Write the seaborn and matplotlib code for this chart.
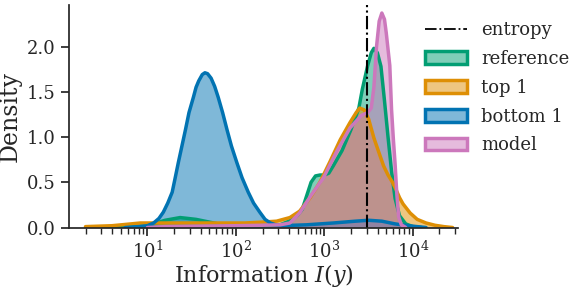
import numpy as np
import pandas as pd
import seaborn as sns
import matplotlib.pyplot as plt
from matplotlib.patches import Patch
from matplotlib.lines import Line2D

# curves: log10 of information, density
ref_log = [0.5, 0.8, 1.0, 1.1, 1.2, 1.37, 1.55, 1.7, 1.85, 2.0, 2.3, 2.5, 2.6, 2.7, 2.75, 2.8,
           2.85, 2.9, 2.95, 3.0, 3.05, 3.1, 3.2, 3.3, 3.39, 3.43, 3.49, 3.53, 3.56, 3.60, 3.64,
           3.68, 3.72, 3.76, 3.80, 3.85, 3.92, 4.0, 4.1]
ref_dens = [0.0, 0.005, 0.02, 0.05, 0.08, 0.11, 0.09, 0.06, 0.03, 0.02, 0.015, 0.03, 0.07, 0.14,
            0.2, 0.35, 0.5, 0.57, 0.58, 0.58, 0.6, 0.68, 0.85, 1.08, 1.32, 1.53, 1.79, 1.93,
            1.98, 1.93, 1.78, 1.40, 1.0, 0.62, 0.32, 0.13, 0.04, 0.01, 0.0]

top_log = [0.3, 0.6, 0.92, 1.2, 1.5, 1.8, 2.1, 2.3, 2.46, 2.61, 2.72, 2.84, 2.95, 3.06, 3.18,
           3.29, 3.36, 3.40, 3.45, 3.50, 3.56, 3.62, 3.67, 3.72, 3.77, 3.81, 3.85, 3.89, 3.97,
           4.05, 4.15, 4.25, 4.35, 4.45]
top_dens = [0.01, 0.02, 0.05, 0.05, 0.05, 0.05, 0.05, 0.06, 0.07, 0.11, 0.18, 0.33, 0.50, 0.72,
            0.97, 1.16, 1.27, 1.32, 1.30, 1.20, 0.99, 0.82, 0.68, 0.58, 0.50, 0.42, 0.33, 0.26,
            0.16, 0.09, 0.05, 0.025, 0.01, 0.0]

bot_log = [0.75, 0.9, 1.0, 1.07, 1.13, 1.18, 1.23, 1.28, 1.31, 1.35, 1.39, 1.43, 1.47, 1.52,
           1.55, 1.58, 1.62, 1.65, 1.68, 1.72, 1.76, 1.80, 1.85, 1.90, 1.95, 2.01, 2.07, 2.14,
           2.20, 2.27, 2.33, 2.39, 2.45, 2.5, 2.8, 3.1, 3.35, 3.5, 3.65, 3.8, 3.95, 4.05, 4.15]
bot_dens = [0.0, 0.01, 0.02, 0.05, 0.10, 0.17, 0.27, 0.39, 0.53, 0.72, 0.90, 1.08, 1.27, 1.44,
            1.55, 1.62, 1.69, 1.71, 1.70, 1.65, 1.56, 1.44, 1.27, 1.08, 0.90, 0.72, 0.55, 0.39,
            0.27, 0.17, 0.09, 0.05, 0.03, 0.02, 0.03, 0.05, 0.07, 0.08, 0.07, 0.04, 0.02, 0.01,
            0.0]

mod_log = [1.0, 1.2, 1.6, 2.0, 2.3, 2.5, 2.61, 2.72, 2.84, 2.99, 3.14, 3.29, 3.42, 3.49, 3.53,
           3.56, 3.59, 3.62, 3.65, 3.68, 3.70, 3.74, 3.76, 3.78, 3.80, 3.82, 3.84, 3.87, 3.92]
mod_dens = [0.0, 0.01, 0.015, 0.02, 0.025, 0.03, 0.05, 0.16, 0.34, 0.55, 0.84, 1.10, 1.24, 1.27,
            1.32, 1.55, 2.0, 2.28, 2.37, 2.30, 2.15, 1.79, 1.3, 0.98, 0.70, 0.36, 0.12, 0.03, 0.0]

entropy = 3000

labels = ["reference", "top 1", "bottom 1", "model"]
series = [(ref_log, ref_dens), (top_log, top_dens), (bot_log, bot_dens), (mod_log, mod_dens)]

sns.set_theme(style="ticks", palette="colorblind")
plt.rcParams['font.family'] = ['DejaVu Serif']
plt.rcParams['mathtext.fontset'] = 'dejavuserif'
colors = sns.color_palette("colorblind")
cols = [colors[2], colors[1], colors[0], colors[4]]

fig = plt.figure(figsize=(5.76, 2.88), dpi=100)
ax = fig.add_axes([0.12, 0.21, 0.675, 0.773])

for (lx, dens), c in zip(series, cols):
    df = pd.DataFrame({"info": 10 ** np.array(lx), "density": dens})
    ax.fill_between(df["info"], df["density"], color=c, alpha=0.5, lw=0)
    sns.lineplot(data=df, x="info", y="density", color=c, lw=2.5, ax=ax, sort=False,
                 solid_joinstyle="round")

ax.axvline(entropy, color="black", ls="-.", lw=1.5)

ax.set_xscale("log")
ax.set_xlim(10 ** 0.115, 10 ** 4.51)
ax.set_ylim(0, 2.46)
ax.set_yticks([0.0, 0.5, 1.0, 1.5, 2.0])
ax.set_xlabel("Information $I(y)$", fontsize=16, labelpad=0)
ax.set_ylabel("Density", fontsize=17)
ax.tick_params(labelsize=13)
sns.despine(ax=ax)

handles = [Line2D([0], [0], color="black", ls="-.", lw=1.3)]
for c in cols:
    handles.append(Patch(facecolor=(*c, 0.5), edgecolor=c, lw=2.5))
ax.legend(handles, ["entropy"] + labels, loc="upper left", bbox_to_anchor=(0.898, 0.96),
          frameon=False, fontsize=13, handlelength=2.3, labelspacing=0.6, borderaxespad=0.0,
          handletextpad=0.8)

fig.savefig("out.png", dpi=100)
